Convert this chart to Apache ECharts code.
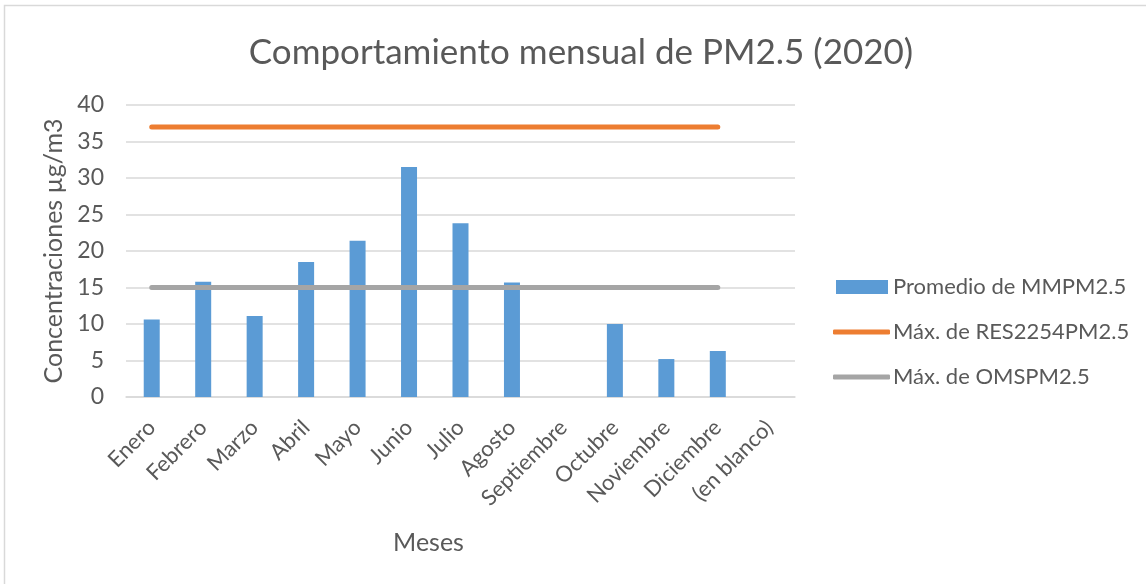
<!DOCTYPE html>
<html>
<head>
<meta charset="utf-8">
<script src="https://cdn.jsdelivr.net/npm/echarts@6/dist/echarts.min.js"></script>
<style>html,body{margin:0;padding:0;background:#fff}#c{width:1146px;height:584px}</style>
</head>
<body>
<div id="c"></div>
<script>
const categories = ['Enero','Febrero','Marzo','Abril','Mayo','Junio','Julio','Agosto','Septiembre','Octubre','Noviembre','Diciembre','(en blanco)'];
const promedioMM = [10.6, 15.8, 11.1, 18.5, 21.4, 31.5, 23.8, 15.7, null, 10.0, 5.2, 6.3, null];
const maxRES = [37, 37, 37, 37, 37, 37, 37, 37, 37, 37, 37, 37, null];
const maxOMS = [15, 15, 15, 15, 15, 15, 15, 15, 15, 15, 15, 15, null];
const seriesNames = ['Promedio de MMPM2.5', 'Máx. de RES2254PM2.5', 'Máx. de OMSPM2.5'];

const font = 'Lato, "Open Sans", sans-serif';
const txt = '#595959';
const chart = echarts.init(document.getElementById('c'));
const legendBase = {
  orient: 'vertical', left: 833, itemWidth: 57, itemHeight: 5, itemGap: 0, padding: 0,
  symbolKeepAspect: false,
  textStyle: { fontFamily: font, fontSize: 22, color: txt, padding: [0, 0, 0, -2] },
  selectedMode: false
};
chart.setOption({
  animation: false,
  backgroundColor: '#fff',
  graphic: [{ type: 'rect', shape: { x: 4.5, y: 5.5, width: 1160, height: 600 }, style: { fill: 'none', stroke: '#d9d9d9', lineWidth: 1.5 }, silent: true }],
  title: {
    text: 'Comportamiento mensual de PM2.5 (2020)', left: 576, top: 30, textAlign: 'center',
    textStyle: { fontFamily: font, fontSize: 35, fontWeight: 'normal', color: txt }
  },
  legend: [
    Object.assign({}, legendBase, { top: 276, left: 836, itemWidth: 52, itemHeight: 14,
      textStyle: Object.assign({}, legendBase.textStyle, { padding: [0, 0, 0, 0] }),
      data: [{ name: seriesNames[0], icon: 'rect', itemStyle: { color: '#5b9bd5' } }] }),
    Object.assign({}, legendBase, { top: 321, data: [{ name: seriesNames[1], icon: 'roundRect', itemStyle: { color: '#ed7d31' } }] }),
    Object.assign({}, legendBase, { top: 366, data: [{ name: seriesNames[2], icon: 'roundRect', itemStyle: { color: '#a5a5a5' } }] })
  ],
  grid: { left: 126, right: 351, top: 105, bottom: 187, containLabel: false },
  xAxis: {
    type: 'category', data: categories, boundaryGap: true,
    name: 'Meses', nameLocation: 'middle', nameGap: 133,
    nameTextStyle: { fontFamily: font, fontSize: 25, color: txt, padding: [0, 64, 0, 0] },
    axisLine: { show: true, lineStyle: { color: '#d9d9d9', width: 1.5 } },
    axisTick: { show: false },
    axisLabel: { rotate: 45, fontFamily: font, fontSize: 22, color: txt, margin: 27, interval: 0 }
  },
  yAxis: {
    type: 'value', min: 0, max: 40, interval: 5,
    name: 'Concentraciones µg/m3', nameLocation: 'middle', nameGap: 58, nameRotate: 90,
    nameTextStyle: { fontFamily: font, fontSize: 25, color: txt },
    axisLine: { show: false }, axisTick: { show: false },
    axisLabel: { fontFamily: font, fontSize: 23, color: txt, margin: 22 },
    splitLine: { lineStyle: { color: '#d9d9d9', width: 1.5 } }
  },
  series: [
    { name: seriesNames[0], type: 'bar', data: promedioMM, barWidth: 16,
      itemStyle: { color: '#5b9bd5' } },
    { name: seriesNames[1], type: 'line', data: maxRES, symbol: 'none', showSymbol: false,
      lineStyle: { color: '#ed7d31', width: 5, cap: 'round' }, itemStyle: { color: '#ed7d31' } },
    { name: seriesNames[2], type: 'line', data: maxOMS, symbol: 'none', showSymbol: false,
      lineStyle: { color: '#a5a5a5', width: 5, cap: 'round' }, itemStyle: { color: '#a5a5a5' } }
  ]
});
</script>
</body>
</html>
